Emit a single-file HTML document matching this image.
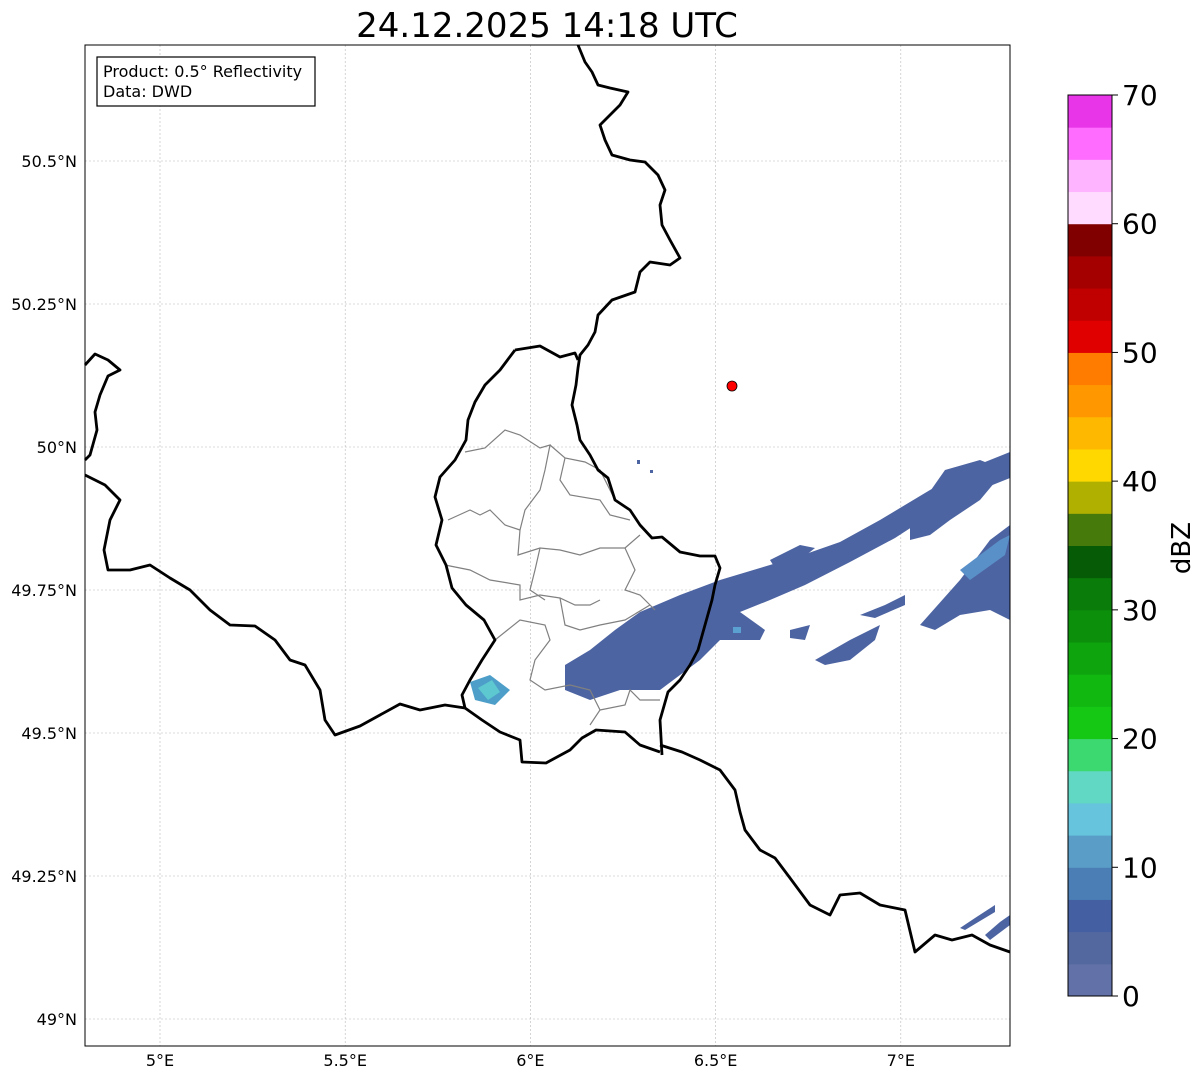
<!DOCTYPE html>
<html><head><meta charset="utf-8"><style>
body{margin:0;background:#fff;width:1202px;height:1081px;overflow:hidden;font-family:"Liberation Sans",sans-serif}
svg text{font-family:"DejaVu Sans","Liberation Sans",sans-serif}
</style></head><body>
<svg id="s" width="1202" height="1081" xmlns="http://www.w3.org/2000/svg">
<text x="547" y="37" font-size="34" text-anchor="middle">24.12.2025 14:18 UTC</text>
<g id="map">
<rect x="85" y="45" width="925" height="1001" fill="#fff"/>
<g id="grid"></g>
<g fill="#4d64a2">
<polygon points="565,665 590,650 615,630 640,612 680,595 720,580 760,568 800,556 840,542 880,520 930,490 970,468 1010,452 1010,478 975,492 935,512 895,538 850,562 805,585 770,600 740,612 765,630 760,640 720,640 700,660 660,690 620,690 590,700 565,690"/>
<polygon points="770,560 800,545 815,548 800,560 775,568" />
<polygon points="910,520 945,470 980,460 1005,470 980,500 950,520 930,535 910,540"/>
<polygon points="920,625 960,580 990,540 1010,525 1010,620 990,610 960,615 935,630"/>
<polygon points="815,660 850,640 880,625 875,640 850,660 825,665"/>
<polygon points="860,615 885,605 905,595 905,605 875,618"/>
<polygon points="790,630 810,625 805,640 790,638"/>
<polygon points="960,928 975,918 995,905 995,912 965,930"/>
<polygon points="985,935 1000,922 1010,915 1010,925 990,940"/>
<polygon points="470,682 490,675 510,690 495,705 475,700" fill="#4d9ec8"/>
<polygon points="478,688 492,680 500,692 488,700" fill="#5ec8d0"/>
<polygon points="960,570 1000,540 1010,535 1005,555 970,580" fill="#5a90c8"/>
<rect x="733" y="627" width="8" height="6" fill="#5aa0d0"/>
<rect x="637" y="460" width="3" height="4"/><rect x="650" y="470" width="3" height="3"/>
</g>
<g fill="none" stroke="#808080" stroke-width="1.2">
<polyline points="465,452 485,448 505,430 520,435 540,448 550,445 545,470 540,490 525,510 520,530 518,555 540,548 560,550 580,555 600,548 625,548 640,535"/>
<polyline points="550,445 565,458 585,462 600,470 610,490 615,500"/>
<polyline points="448,520 470,510 480,515 490,510 505,525 520,530"/>
<polyline points="445,565 470,570 490,580 520,585 520,600 540,595 560,598 575,605 590,605 600,600"/>
<polyline points="565,458 560,480 570,495 600,500 610,515 630,520"/>
<polyline points="540,548 535,570 530,590 545,600"/>
<polyline points="625,548 635,570 625,590 640,595 655,610"/>
<polyline points="495,640 520,620 545,625 550,640 535,660 530,680 545,690 570,685 590,690 600,710 590,725"/>
<polyline points="560,598 565,625 580,630 600,625 625,620 650,605"/>
<polyline points="600,710 625,705 630,690 640,700 660,700"/>
</g>
<g fill="none" stroke="#000" stroke-width="2.8" stroke-linejoin="round">
<polyline points="578,45 585,62 592,72 598,85 610,88 628,92 620,105 600,125 605,140 612,155 630,160 645,162 658,175 665,190 660,205 662,225 670,240 680,258 670,265 650,262 640,272 635,292 612,300 598,315 595,332 588,345 580,355 578,368 576,385 572,405 577,425 580,440 590,455 598,470 608,478 615,500 630,510 640,525 652,538 662,537 680,552 700,556 715,556 720,568 715,585 712,600 705,625 698,650 690,665 680,680 668,692 660,720 662,755"/>
<polyline points="515,350 540,346 560,357 575,353 578,360"/>
<polyline points="515,350 500,370 485,385 475,402 468,420 466,440 455,460 440,477 435,497 442,520 436,545 446,565 452,588 466,605 484,620 495,640 482,660 470,680 462,695 465,708"/>
<polyline points="465,708 482,720 500,732 520,740 522,762 546,763 570,750 582,738 596,730 625,732 640,745 660,752"/>
<polyline points="660,745 682,752 700,760 720,770 735,790 740,812 745,830 760,850 775,858 790,878 810,905 830,915 840,895 860,893 880,905 905,910 915,952 935,935 952,940 972,935 990,945 1010,952"/>
<polyline points="465,708 445,705 420,710 400,704 380,715 360,726 335,735 325,720 320,690 305,665 290,660 275,640 255,626 230,625 210,610 190,590 170,578 150,565 130,570 108,570 104,550 110,520 120,500 105,485 85,475"/>
<polyline points="85,365 95,354 108,360 120,370 108,376 100,395 95,412 97,430 90,455 85,460"/>
</g>
<circle cx="732" cy="386" r="5" fill="#f00" stroke="#000" stroke-width="0.8"/>
<rect x="85" y="45" width="925" height="1001" fill="none" stroke="#000" stroke-width="1"/>
<g>
<rect x="97" y="57" width="218" height="49" fill="#fff" stroke="#000" stroke-width="1.2"/>
<text x="103" y="77" font-size="16">Product: 0.5° Reflectivity</text>
<text x="103" y="97" font-size="16">Data: DWD</text>
</g>
</g>
<g id="ticks"></g>
<g id="cbar"></g>
<text transform="translate(1190,548) rotate(-90)" font-size="26" text-anchor="middle">dBZ</text>
</svg>
<script>
const lonTicks=[5,5.5,6,6.5,7];
const lonLabels=["5°E","5.5°E","6°E","6.5°E","7°E"];
const latTicks=[50.5,50.25,50,49.75,49.5,49.25,49];
const latLabels=["50.5°N","50.25°N","50°N","49.75°N","49.5°N","49.25°N","49°N"];
const cbLevels=[0,2.5,5,7.5,10,12.5,15,17.5,20,22.5,25,27.5,30,32.5,35,37.5,40,42.5,45,47.5,50,52.5,55,57.5,60,62.5,65,67.5,70];
const cbColors=["#6272a8","#5468a0","#4560a2","#4a7eb4","#5a9ec8","#66c4dc","#60d8c4","#3cd870","#14c814","#10b810","#0ea40e","#0c900c","#0a7c0a","#065c06","#467a0a","#b0b000","#ffd800","#ffb800","#ff9800","#ff7c00","#e00000","#c00000","#a40000","#800000","#ffdcff","#ffb4ff","#ff6cff","#e835e8"];
const cbTicks=[0,10,20,30,40,50,60,70];
const NS="http://www.w3.org/2000/svg";
const xLon=v=>160+(v-5)*370.4;
const yLat=v=>161+(50.5-v)*572;
const yCb=v=>996-v*(901/70);
function mk(t,a,p){const e=document.createElementNS(NS,t);for(const k in a)e.setAttribute(k,a[k]);p.appendChild(e);return e;}
const grid=document.getElementById('grid'),ticks=document.getElementById('ticks'),cb=document.getElementById('cbar');
lonTicks.forEach((v,i)=>{const x=xLon(v);
 const l=mk('line',{x1:x,x2:x,y1:45,y2:1046,stroke:'#b8b8b8','stroke-width':0.6,'stroke-dasharray':'2,2'},grid);
 
 
 const t=mk('text',{x:x,y:1066,'font-size':16,'text-anchor':'middle'},ticks);t.textContent=lonLabels[i];
 
 });
latTicks.forEach((v,i)=>{const y=yLat(v);
 const l=mk('line',{x1:85,x2:1010,y1:y,y2:y,stroke:'#b8b8b8','stroke-width':0.6,'stroke-dasharray':'2,2'},grid);
 
 
 const t=mk('text',{x:77,y:y+6,'font-size':16,'text-anchor':'end'},ticks);t.textContent=latLabels[i];
 
 });
cbColors.forEach((c,i)=>{const y1=yCb(cbLevels[i+1]),y0=yCb(cbLevels[i]);
 const r=mk('rect',{x:1068,y:y1,width:44,height:y0-y1+0.5,fill:c},cb);
 
 });
mk('rect',{x:1068,y:yCb(70),width:44,height:yCb(0)-yCb(70),fill:'none',stroke:'#000','stroke-width':1},cb);
cbTicks.forEach(v=>{const y=yCb(v);
 mk('line',{x1:1112,x2:1118,y1:y,y2:y,stroke:'#000'},cb);
 const t=mk('text',{x:1122,y:y+10,'font-size':28},cb);t.textContent=v;
 
 });
</script>
</body></html>
